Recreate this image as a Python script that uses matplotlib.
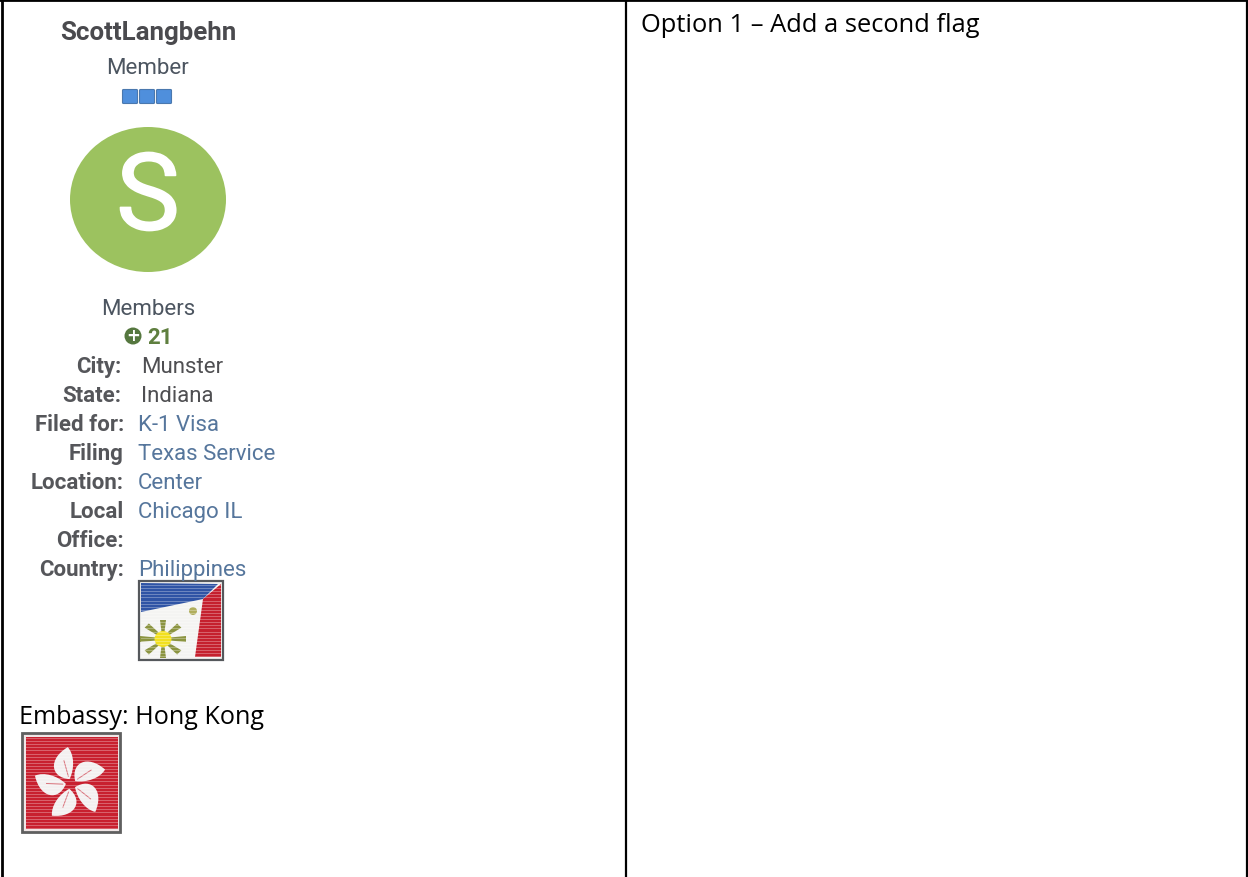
import numpy as np
import matplotlib
matplotlib.use('Agg')
import matplotlib.pyplot as plt
import matplotlib.patheffects as pe
from matplotlib.path import Path
from matplotlib.patches import Circle, Rectangle, Polygon, Ellipse, PathPatch, FancyBboxPatch

user_name = 'ScottLangbehn'
user_rank = 'Member'
user_group = 'Members'
reputation = '21'
field_names = ['City:', 'State:', 'Filed for:', 'Filing', 'Location:', 'Local', 'Office:', 'Country:']
field_values = ['Munster', 'Indiana', 'K-1 Visa', 'Texas Service', 'Center', 'Chicago IL', '', 'Philippines']
value_is_link = [False, False, True, True, True, True, False, True]
embassy_text = 'Embassy: Hong Kong'
option_text = 'Option 1 \u2013 Add a second flag'

W, H = 1248, 878
ROBOTO = 'Roboto'
BODY = 'Open Sans'


def stripes(ax, x0, x1, y0, y1):
    # the screenshot flags have faint scan lines across them
    for y in np.arange(y0, y1, 3.1):
        ax.plot([x0, x1], [y, y], color='white', lw=0.7, alpha=0.3, zorder=5)


def phil_flag(ax):
    ax.add_patch(Rectangle((139, 582), 84, 79, fc='#f4f4f2', ec='#55585c', lw=1.6, zorder=2))
    ax.add_patch(Polygon([(141, 584), (218, 585), (203, 600), (141, 613)], fc='#2f54a5', zorder=3))
    ax.add_patch(Polygon([(221, 585), (221, 658), (195, 658), (203, 600)], fc='#c5202e', zorder=3))
    # sun rays, then the sun on top
    cx, cy = 163, 640
    for a in np.arange(0, 360, 45):
        r = np.radians(a)
        n = np.array([-np.sin(r), np.cos(r)])
        base = np.array([cx + 7 * np.cos(r), cy + 7 * np.sin(r)])
        tip = np.array([cx + 23 * np.cos(r), cy + 19 * np.sin(r)])
        ax.add_patch(Polygon([base + n * 1.5, tip + n * 3, tip - n * 3, base - n * 1.5],
                             fc='#8b9440', zorder=4))
    ax.add_patch(Ellipse((cx, cy), 17, 16, fc='#f2e01f', zorder=4))
    ax.add_patch(Circle((193, 612), 4, fc='#b0ae5c', zorder=4))
    stripes(ax, 141, 221, 586, 660)


def hk_flag(ax):
    ax.add_patch(Rectangle((22, 734), 98, 99, fc='#f0e6e6', ec='#5f5f5f', lw=2, zorder=2))
    ax.add_patch(Rectangle((25.5, 737.5), 92, 92, fc='#c8202f', zorder=3))
    cx, cy = 71, 785
    codes = [Path.MOVETO, Path.CURVE4, Path.CURVE4, Path.CURVE4,
             Path.CURVE4, Path.CURVE4, Path.CURVE4, Path.CLOSEPOLY]
    # one petal along its own axis: distance from the centre, distance across
    petal = np.array([(5, -1), (8, -20), (27, -21), (37, 0), (29, 6), (15, 5), (5, -1), (5, -1)], dtype=float)
    for a in [-95, -23, 49, 121, 193]:
        r = np.radians(a)
        u = np.array([np.cos(r), np.sin(r)])
        v = np.array([-np.sin(r), np.cos(r)])
        pts = np.array([cx, cy]) + np.outer(petal[:, 0], u) + np.outer(petal[:, 1], v)
        ax.add_patch(PathPatch(Path(pts, codes), fc='#f3f0f0', ec='none', zorder=4))
        a0 = np.array([cx, cy]) + 8 * u - 2 * v
        a1 = np.array([cx, cy]) + 24 * u - 5 * v
        ax.plot([a0[0], a1[0]], [a0[1], a1[1]], color='#c8202f', lw=0.7, alpha=0.6, zorder=4)
    stripes(ax, 26, 117, 739, 829)


def main():
    fig = plt.figure(figsize=(W / 100, H / 100), dpi=100)
    ax = fig.add_axes([0, 0, 1, 1])
    ax.set_xlim(0, W)
    ax.set_ylim(H, 0)
    ax.axis('off')

    # table borders
    ax.plot([0, W], [1, 1], color='black', lw=2)
    ax.plot([2, 2], [0, H], color='black', lw=2)
    ax.plot([625.5, 625.5], [0, H], color='black', lw=1.6)
    ax.plot([W - 1, W - 1], [0, H], color='black', lw=1.6)

    ax.text(148, 33, user_name, fontsize=18.6, fontweight='bold', family=ROBOTO, color='#4a4a4e',
            ha='center', va='center')
    ax.text(148, 69, user_rank, fontsize=16, family=ROBOTO, color='#4c5560', ha='center', va='center')
    for x in [130, 147, 164]:
        ax.add_patch(FancyBboxPatch((x - 6.5, 91.5), 13, 12, boxstyle='round,pad=1', fc='#4f8fdc',
                                    ec='#4a78ae', lw=0.8))

    ax.add_patch(Ellipse((148, 200.5), 156, 145, fc='#9cc25f', ec='none'))
    s = ax.text(148, 201, 'S', fontsize=77, family=ROBOTO, color='white', ha='center', va='center')
    s.set_path_effects([pe.withStroke(linewidth=1.2, foreground='white')])

    ax.text(148, 310, user_group, fontsize=16, family=ROBOTO, color='#4c5560', ha='center', va='center')
    ax.add_patch(Circle((133, 337), 8.5, fc='#55773f', ec='none'))
    ax.text(133, 336.5, '+', fontsize=12, fontweight='bold', family='DejaVu Sans', color='white',
            ha='center', va='center')
    ax.text(147, 338, reputation, fontsize=16, fontweight='bold', family=ROBOTO, color='#5f7f3f',
            ha='left', va='center')

    row_y = [367.5, 396.5, 425.5, 454.5, 483.5, 512.5, 541.5, 570.5]
    name_x = [121, 121, 124, 124, 124, 124, 124, 124]
    value_x = [141, 141, 138, 138, 138, 138, 138, 138]
    for i in range(len(field_names)):
        ax.text(name_x[i], row_y[i], field_names[i], fontsize=16, fontweight='bold', family=ROBOTO,
                color='#55565a', ha='right', va='center')
        color = '#56769c' if value_is_link[i] else '#4f4f52'
        ax.text(value_x[i], row_y[i], field_values[i], fontsize=16, family=ROBOTO, color=color,
                ha='left', va='center')

    phil_flag(ax)
    hk_flag(ax)

    ax.text(19, 718, embassy_text, fontsize=18.1, family=BODY, color='black', ha='left', va='center')
    ax.text(641, 26, option_text, fontsize=18.4, family=BODY, color='black', ha='left', va='center')

    fig.savefig('out.png', dpi=100)


if __name__ == '__main__':
    main()
